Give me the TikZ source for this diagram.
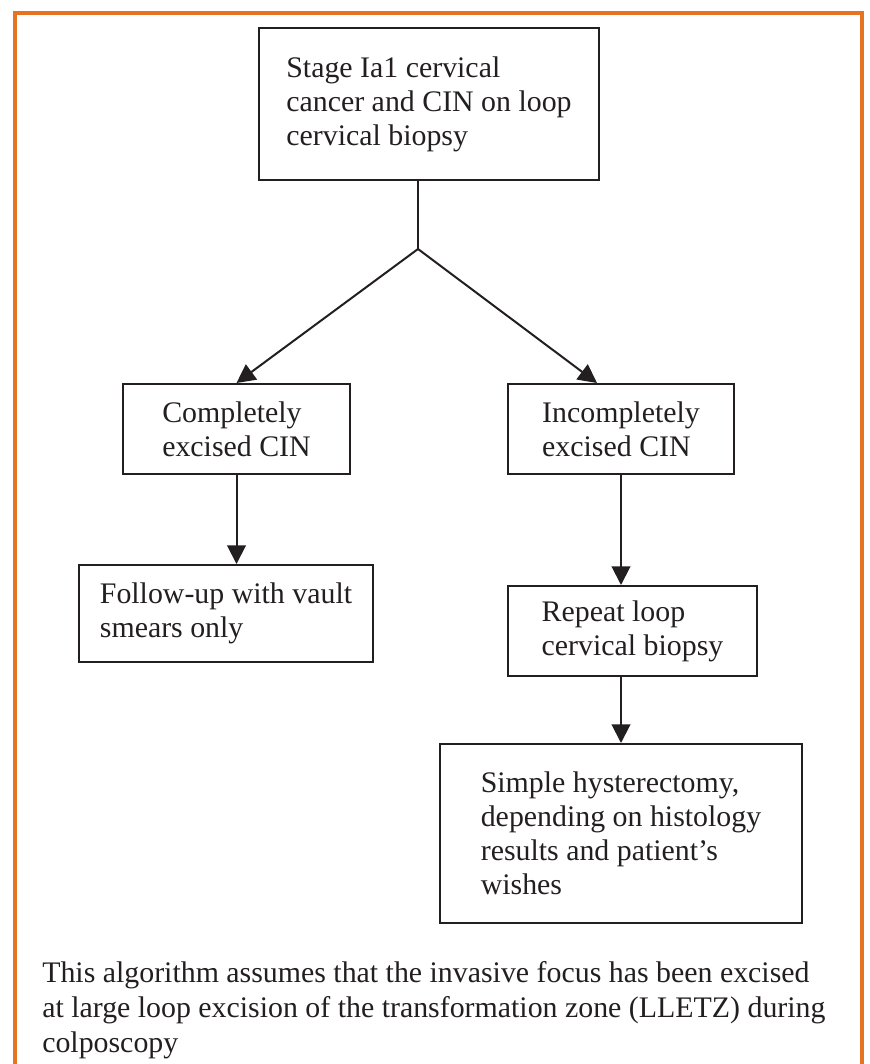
\documentclass[tikz,border=0pt]{standalone}
\usepackage{fontspec}
\setmainfont{Liberation Serif}
\usepackage{xcolor}
\usetikzlibrary{arrows.meta,positioning,calc}
\definecolor{frame}{HTML}{E5731F}
\definecolor{ink}{HTML}{231F20}

\begin{document}
\begin{tikzpicture}[
    x=0.75pt, y=-0.75pt,
    every node/.style={font=\fontsize{22.4}{25.5}\selectfont, text=ink},
    box/.style={draw=ink, line width=1.5pt, align=left, inner sep=0pt,
                minimum height=67.5pt},
    arr/.style={-{Triangle[length=14pt, width=14pt]}, line width=1.5pt, draw=ink}
]
\useasboundingbox (0,0) rectangle (869,1064);

% ── Orange frame ──────────────────────────────────────────────────────────
\draw[frame, line width=2.4pt] (15,1070) -- (15,13) -- (862,13) -- (862,1070);

% ── Start ─────────────────────────────────────────────────────────────────
\node[box, minimum width=255pt, minimum height=114pt] (stage) at (429,104)
      {Stage Ia1 cervical\\cancer and CIN on loop\\cervical biopsy};
\coordinate (split) at (418,249);

% ── Excision result ───────────────────────────────────────────────────────
\node[box, minimum width=170.25pt] (done) at (236.5,429)
      {Completely\\excised CIN};
\node[box, minimum width=169.5pt] (notdone) at (621,429)
      {Incompletely\\excised CIN};

% ── Follow-up / repeat ────────────────────────────────────────────────────
\node[box, minimum width=220.5pt, minimum height=72.75pt] (follow) at (226,613.5)
      {Follow-up with vault\\smears only};
\node[box, minimum width=186.75pt] (repeat) at (632.5,631)
      {Repeat loop\\cervical biopsy};

% ── Hysterectomy ──────────────────────────────────────────────────────────
\node[box, minimum width=271.5pt, minimum height=134.25pt] (hyst) at (621,833.5)
      {Simple hysterectomy,\\depending on histology\\results and patient’s\\wishes};

% ── Note ──────────────────────────────────────────────────────────────────
\node[anchor=north west, align=left, inner sep=0pt,
      font=\fontsize{22.4}{26.3}\selectfont] (note) at (42,961)
      {This algorithm assumes that the invasive focus has been excised\\at large loop excision of the transformation zone (LLETZ) during\\colposcopy};

% ── Connectors ────────────────────────────────────────────────────────────
\draw[line width=1.5pt, ink] (split |- stage.south) -- (split);
\draw[arr] (split) -- (done.north);
\draw[arr] (split) -- ([xshift=-18pt]notdone.north);
\draw[arr] (done.south) -- (done.south |- follow.north);
\draw[arr] (notdone.south) -- (notdone.south |- repeat.north);
\draw[arr] (hyst.north |- repeat.south) -- (hyst.north);

\end{tikzpicture}
\end{document}
